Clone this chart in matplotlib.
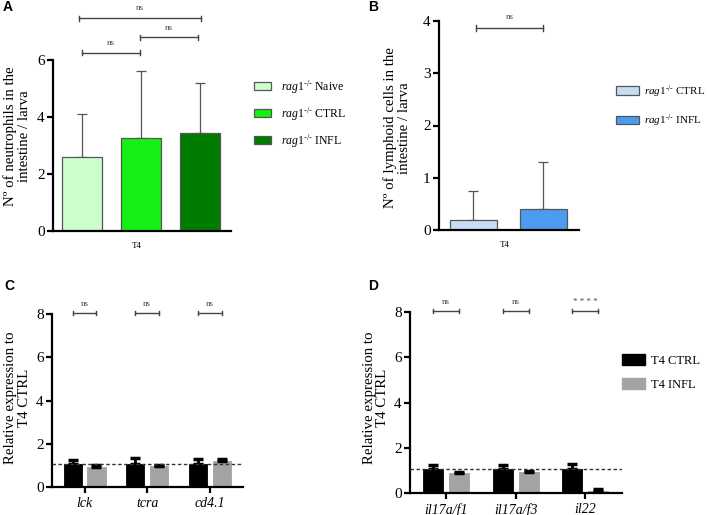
import matplotlib
matplotlib.use("Agg")
import matplotlib.pyplot as plt
import numpy as np
from matplotlib.patches import Patch

plt.rcParams['font.family'] = ['Liberation Serif', 'DejaVu Serif']
plt.rcParams['mathtext.fontset'] = 'custom'
plt.rcParams['mathtext.rm'] = 'Liberation Serif'
plt.rcParams['mathtext.it'] = 'Liberation Serif:italic'

#%% data
# panel A - neutrophils
a_groups = ['Naive', 'CTRL', 'INFL']
a_mean = [2.6, 3.26, 3.43]
a_sd = [1.5, 2.34, 1.75]
a_colors = ['#ccffcc', '#14f014', '#007c00']

# panel B - lymphoid cells
b_groups = ['CTRL', 'INFL']
b_mean = [0.19, 0.4]
b_sd = [0.56, 0.9]
b_colors = ['#c8dcf6', '#4c9bf0']

# panel C / D - qPCR
c_genes = ['lck', 'tcra', 'cd4.1']
c_ctrl = [1.05, 1.05, 1.05]
c_ctrl_sd = [0.2, 0.3, 0.25]
c_infl = [0.91, 0.96, 1.19]
c_infl_sd = [0.1, 0.04, 0.09]
c_sig = ['ns', 'ns', 'ns']

d_genes = ['il17a/f1', 'il17a/f3', 'il22']
d_ctrl = [1.05, 1.05, 1.05]
d_ctrl_sd = [0.19, 0.2, 0.22]
d_infl = [0.88, 0.93, 0.09]
d_infl_sd = [0.07, 0.03, 0.08]
d_sig = ['ns', 'ns', '* * * *']

ref_line = 1.06

W, H = 708, 515
fig = plt.figure(figsize=(W / 100, H / 100), dpi=100)


def px_axes(left, top, right, bottom):
    return fig.add_axes([left / W, 1 - bottom / H, (right - left) / W, (bottom - top) / H])


def style(ax):
    for s in ['top', 'right']:
        ax.spines[s].set_visible(False)
    for s in ['left', 'bottom']:
        ax.spines[s].set_linewidth(1.6)
    ax.tick_params(axis='y', width=1.6, length=4, labelsize=11, pad=2)


def bracket(ax, x1, x2, y, txt, h=0.0, fs=6.5):
    ax.plot([x1, x2], [y, y], color='#444444', lw=1, clip_on=False)
    ax.plot([x1, x1], [y - h, y + h], color='#444444', lw=1, clip_on=False)
    ax.plot([x2, x2], [y - h, y + h], color='#444444', lw=1, clip_on=False)
    ax.text((x1 + x2) / 2, y + 2.2 * h, txt, ha='center', va='bottom', fontsize=fs, color='#444444')


def rag(name):
    return r'$\mathit{rag1}^{\text{-/-}}$ ' + name


#%% A
ax = px_axes(53, 60, 231, 231)
xa = np.arange(len(a_groups))
ax.bar(xa, a_mean, width=0.68, color=a_colors, edgecolor='#555555', linewidth=0.9, zorder=2)
ax.errorbar(xa, a_mean, yerr=[np.zeros(3), a_sd], fmt='none', ecolor='#555555',
            elinewidth=0.9, capsize=3.5, capthick=0.9, zorder=1)
ax.set_ylim(0, 6)
ax.set_yticks([0, 2, 4, 6])
ax.set_xlim(-0.49, 2.52)
ax.set_xticks([0.92])
ax.set_xticklabels(['T4'], fontsize=6.5)
ax.tick_params(axis='x', length=0, pad=8)
style(ax)
bracket(ax, 0, 0.98, 6.25, 'ns', h=0.09)
bracket(ax, 0.98, 1.97, 6.8, 'ns', h=0.09)
bracket(ax, -0.05, 2.02, 7.47, 'ns', h=0.09)
fig.text(17 / W, 1 - 136 / H, 'Nº of neutrophils in the\nintestine / larva', rotation=90,
         ha='center', va='center', fontsize=10.7, linespacing=1.1)
fig.legend([Patch(facecolor=c, edgecolor='#555555', linewidth=0.9) for c in a_colors],
           [rag(g) for g in a_groups], loc='upper left', bbox_to_anchor=(254 / W, 1 - 78 / H),
           frameon=False, fontsize=8.5, borderpad=0, borderaxespad=0, handlelength=1.45,
           handleheight=0.68, labelspacing=0.8, handletextpad=0.8)
fig.text(3 / W, 1 - 7 / H, 'A', fontsize=10, fontweight='bold', family='Liberation Sans',
         ha='left', va='center')

#%% B
ax = px_axes(439, 21, 579, 230)
xb = np.arange(len(b_groups))
ax.bar(xb, b_mean, width=0.67, color=b_colors, edgecolor='#555555', linewidth=0.9, zorder=2)
ax.errorbar(xb, b_mean, yerr=[np.zeros(2), b_sd], fmt='none', ecolor='#555555',
            elinewidth=0.9, capsize=3.5, capthick=0.9, zorder=1)
ax.set_ylim(0, 4)
ax.set_yticks([0, 1, 2, 3, 4])
ax.set_xlim(-0.49, 1.51)
ax.set_xticks([0.45])
ax.set_xticklabels(['T4'], fontsize=6.5)
ax.tick_params(axis='x', length=0, pad=8)
style(ax)
bracket(ax, 0.04, 1.0, 3.87, 'ns', h=0.06)
fig.text(397 / W, 1 - 128 / H, 'Nº of lymphoid cells in the\nintestine / larva', rotation=90,
         ha='center', va='center', fontsize=10.7, linespacing=1.1)
fig.legend([Patch(facecolor=c, edgecolor='#555555', linewidth=0.9) for c in b_colors],
           [rag(g) for g in b_groups], loc='upper left', bbox_to_anchor=(616 / W, 1 - 83 / H),
           frameon=False, fontsize=8, borderpad=0, borderaxespad=0, handlelength=2.1,
           handleheight=0.8, labelspacing=1.15, handletextpad=0.45)
fig.text(368 / W, 1 - 7 / H, 'B', fontsize=10, fontweight='bold', family='Liberation Sans',
         ha='left', va='center')


#%% C and D
def qpcr(ax, genes, ctrl, ctrl_sd, infl, infl_sd, sig, off, bw):
    x = np.arange(len(genes))
    ax.bar(x - off, ctrl, width=bw, color='black', edgecolor='black', linewidth=0.6, zorder=2)
    ax.bar(x + off, infl, width=bw, color='#a3a3a6', edgecolor='#a3a3a6', linewidth=0.6, zorder=2)
    ax.errorbar(x - off, ctrl, yerr=[np.zeros(len(x)), ctrl_sd], fmt='none', ecolor='black',
                elinewidth=2, capsize=3.5, capthick=2.5, zorder=3)
    ax.errorbar(x + off, infl, yerr=[np.zeros(len(x)), infl_sd], fmt='none', ecolor='black',
                elinewidth=2, capsize=3.5, capthick=2.5, zorder=3)
    ax.axhline(ref_line, color='#333333', lw=1, ls=(0, (2.5, 1.8)), zorder=4)
    ax.set_ylim(0, 8)
    ax.set_yticks([0, 2, 4, 6, 8])
    ax.set_xlim(-0.52, 2.53)
    ax.set_xticks(x)
    ax.set_xticklabels(genes, fontstyle='italic', fontsize=10)
    ax.tick_params(axis='x', width=1.6, length=4, pad=3)
    style(ax)
    for i, s in enumerate(sig):
        bracket(ax, i - off, i + off, 8.05, s, h=0.1, fs=6.5)


ax = px_axes(52, 314, 243, 487)
qpcr(ax, c_genes, c_ctrl, c_ctrl_sd, c_infl, c_infl_sd, c_sig, 0.19, 0.29)
fig.text(18 / W, 1 - 398 / H, 'Relative expression to\nT4 CTRL', rotation=90,
         ha='center', va='center', fontsize=10.7, linespacing=1.1)
fig.text(4 / W, 1 - 286 / H, 'C', fontsize=10, fontweight='bold', family='Liberation Sans',
         ha='left', va='center')

ax = px_axes(410, 312, 622, 493)
qpcr(ax, d_genes, d_ctrl, d_ctrl_sd, d_infl, d_infl_sd, d_sig, 0.186, 0.286)
fig.text(376 / W, 1 - 398 / H, 'Relative expression to\nT4 CTRL', rotation=90,
         ha='center', va='center', fontsize=10.7, linespacing=1.1)
fig.text(368 / W, 1 - 286 / H, 'D', fontsize=10, fontweight='bold', family='Liberation Sans',
         ha='left', va='center')
fig.legend([Patch(facecolor='black', edgecolor='black'), Patch(facecolor='#a3a3a6', edgecolor='#a3a3a6')],
           ['T4 CTRL', 'T4 INFL'], loc='upper left', bbox_to_anchor=(622 / W, 1 - 354 / H),
           frameon=False, fontsize=9, borderpad=0, borderaxespad=0, handlelength=1.8,
           handleheight=0.95, labelspacing=0.9, handletextpad=0.55)

fig.savefig('out.png', dpi=100)
